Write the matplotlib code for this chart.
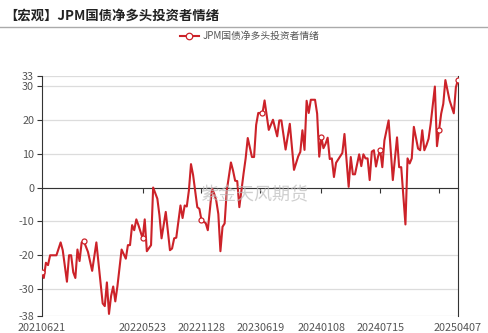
import numpy as np
import matplotlib.pyplot as plt

plt.rcParams['font.family'] = ['Noto Sans CJK SC', 'DejaVu Sans']

title = '【宏观】JPM国债净多头投资者情绪'
series_name = 'JPM国债净多头投资者情绪'

# weeks since 2021-06-21 and sentiment value
weeks = [0, 1, 2, 3, 4, 7, 9, 10, 12, 13, 14, 15, 16, 17, 18, 19, 20, 22, 24, 26,
         29, 30, 31, 32, 33, 34, 35, 36, 38, 40, 41, 42, 43, 44, 45, 46, 48, 49, 50, 52,
         53, 55, 56, 57, 59, 61, 62, 63, 64, 66, 67, 68, 69, 70, 71, 72, 74, 75, 76, 78,
         79, 81, 82, 83, 84, 85, 86, 87, 88, 90, 91, 92, 93, 94, 96, 97, 98, 100, 101, 102,
         103, 104, 105, 106, 108, 110, 112, 113, 114, 116, 118, 120, 122, 123, 124, 125, 126, 127, 128, 130,
         131, 132, 133, 134, 135, 136, 137, 138, 139, 140, 143, 144, 146, 147, 148, 149, 151, 152, 153, 154,
         155, 156, 157, 158, 159, 160, 161, 162, 163, 165, 167, 169, 170, 171, 173, 174, 175, 176, 177, 179,
         180, 181, 182, 183, 184, 185, 187, 188, 189, 190, 191, 192, 194, 196, 197, 198]
values = [-25, -26.7, -22.2, -22.9, -20, -20, -16.2, -18.5, -27.8, -20, -20, -25, -26.7, -18.3, -21.7, -16.2, -15.8, -19, -24.6, -16.2,
          -34.2, -35, -28, -37.3, -32, -29.2, -33.6, -29.2, -18.3, -21, -17, -17, -11.1, -12.6, -9.4, -11.1, -15, -9.4, -18.8, -17,
          0, -3.3, -8.2, -15, -7.2, -18.5, -18, -15, -14.8, -5.3, -9, -5.3, -5.6, -0.9, 6.9, 3.7, -5.8, -6.3, -9.7, -10.5,
          -12.6, -0.3, -1.8, -3.8, -7.8, -18.8, -11.6, -10.6, -1, 7.4, 5, 2, 1.9, -5.8, 4.1, 8.6, 14.6, 9, 9, 18.5,
          22, 22, 21.9, 25.7, 17, 20, 15.1, 19.8, 19.8, 11.2, 18.8, 5.2, 9.2, 10.5, 16.9, 11.1, 25.6, 22, 25.9, 25.9,
          21.8, 9.1, 14.9, 11.6, 12.9, 14.7, 8.4, 8.6, 3.1, 7.3, 10.2, 15.8, 0.2, 9, 3.9, 3.9, 9.8, 6.3, 9.8, 8.6,
          8.6, 2.2, 10.6, 11, 6.2, 9.2, 11, 6, 13.9, 19.8, 2.2, 14.8, 6, 6, -10.9, 8.6, 7.1, 8.6, 17.9, 11.5,
          11, 16.9, 11, 12.5, 14.4, 18.8, 29.8, 12.2, 16.9, 21.8, 24.7, 31.7, 25.7, 21.9, 29.6, 31.8]

marker_weeks = [0, 20, 48, 76, 105, 133, 161, 189, 198]
tick_weeks = [48, 76, 104, 133, 161, 189]
label_weeks = [0, 48, 76, 104, 133, 161, 198]
date_labels = ['20210621', '20220523', '20221128', '20230619', '20240108', '20240715', '20250407']
y_ticks = [-38, -30, -20, -10, 0, 10, 20, 30, 33]

weeks = np.array(weeks)
values = np.array(values)

fig = plt.figure(figsize=(4.89, 3.33), dpi=100)
ax = fig.add_axes([0.0853, 0.0502, 0.8513, 0.7225])

red = '#cc2229'
ax.plot(weeks, values, color=red, lw=1.5, marker='o', ms=3.6, mfc='white', mec=red, mew=0.9,
        markevery=list(np.where(np.isin(weeks, marker_weeks))[0]), zorder=3)

ax.set_xlim(0, 198)
ax.set_ylim(-38, 33)
ax.set_yticks(y_ticks)
ax.set_yticklabels([str(v) for v in y_ticks])
ax.grid(axis='y', color='#dcdcdc', lw=0.9)
ax.set_axisbelow(True)

ax.spines['top'].set_visible(False)
ax.spines['left'].set_color('#333333')
ax.spines['right'].set_color('#333333')
ax.spines['bottom'].set_position(('data', 0))
ax.spines['bottom'].set_color('#333333')
ax.set_xticks(tick_weeks)
ax.tick_params(axis='x', direction='out', length=3.5, color='#333333', labelbottom=False)
ax.tick_params(axis='y', direction='out', length=3.5, color='#333333', labelsize=7.8,
               labelcolor='#555555', pad=2)

sec = ax.secondary_xaxis('bottom')
sec.set_xticks(label_weeks)
sec.set_xticklabels(date_labels)
sec.tick_params(length=0, labelsize=7.8, labelcolor='#555555', pad=4.5)
sec.spines['bottom'].set_visible(False)

fig.text(0.008, 0.952, title, fontsize=9.6, fontweight='bold', color='#222222', va='center')
fig.add_artist(plt.Line2D([0, 1], [0.919, 0.919], color='#aaaaaa', lw=1))

ax.legend([ax.lines[0]], [series_name], loc='center', bbox_to_anchor=(0.5, 1.165),
          frameon=False, fontsize=7, labelcolor='#555555', handlelength=2, handletextpad=0.4,
          borderaxespad=0, markerscale=1.3)

fig.text(254 / 489, 1 - 195 / 333, '紫金天风期货', fontsize=13, color='#bbbbbb', alpha=0.7,
         ha='center', va='center', zorder=5)

fig.savefig('out.png', dpi=100)
